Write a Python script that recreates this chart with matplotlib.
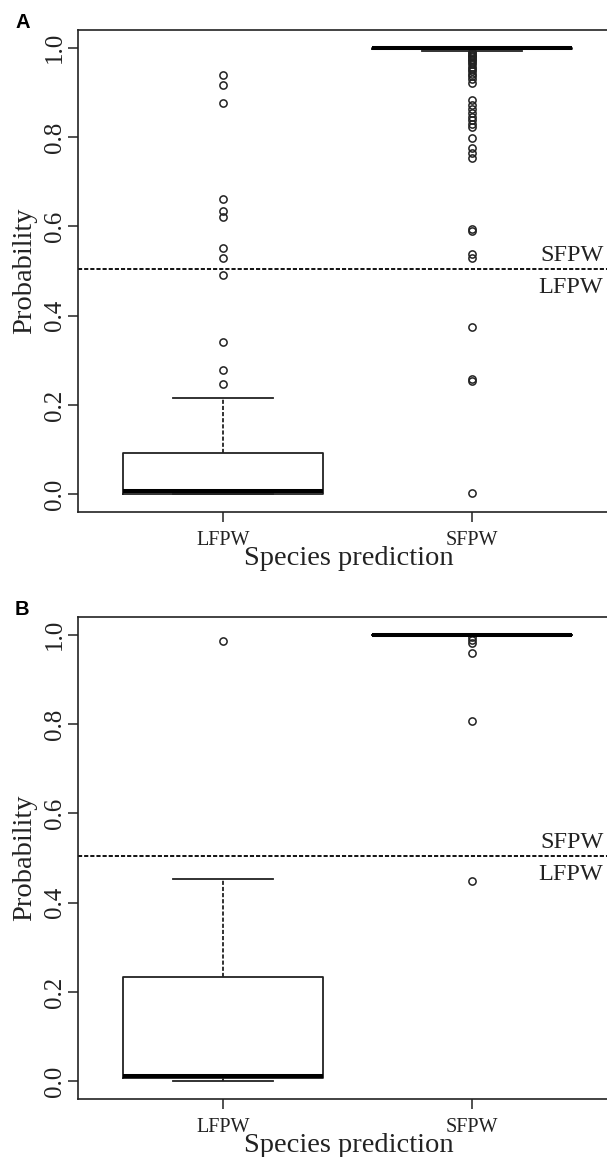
import matplotlib
matplotlib.use('Agg')
import matplotlib.pyplot as plt

plt.rcParams['font.family'] = ['Liberation Serif', 'DejaVu Serif']

groups = ['LFPW', 'SFPW']
yticks = [0.0, 0.2, 0.4, 0.6, 0.8, 1.0]
cutoff = 0.505

# box stats: whisker low, q1, median, q3, whisker high
a_lfpw_stats = [0.0, 0.001, 0.007, 0.093, 0.216]
a_lfpw_out = [0.246, 0.279, 0.340, 0.490, 0.530, 0.551, 0.620, 0.634,
              0.661, 0.877, 0.917, 0.939]
a_sfpw_stats = [0.993, 0.998, 1.0, 1.0, 1.0]
a_sfpw_out = [0.003, 0.254, 0.258, 0.374, 0.530, 0.539, 0.589, 0.593,
              0.753, 0.764, 0.775, 0.799, 0.822, 0.830, 0.838, 0.846,
              0.855, 0.863, 0.872, 0.883, 0.921, 0.930, 0.936, 0.942,
              0.948, 0.953, 0.958, 0.963, 0.968, 0.972, 0.976, 0.979,
              0.982, 0.985, 0.988, 0.990]

b_lfpw_stats = [0.0, 0.008, 0.012, 0.233, 0.454]
b_lfpw_out = [0.986]
b_sfpw_stats = [1.0, 1.0, 1.0, 1.0, 1.0]
b_sfpw_out = [0.449, 0.808, 0.960, 0.982, 0.988, 0.996]

W, H = 607, 1157
ink = '#222222'


def stats(vals, out, label):
    return {'whislo': vals[0], 'q1': vals[1], 'med': vals[2], 'q3': vals[3],
            'whishi': vals[4], 'fliers': out, 'label': label}


def panel(fig, top_px, letter, box_a, out_a, box_b, out_b):
    bot_px = top_px + 482
    ax = fig.add_axes([78 / W, 1 - bot_px / H, 539 / W, 482 / H])
    ax.bxp([stats(box_a, out_a, groups[0]), stats(box_b, out_b, groups[1])],
           positions=[1, 2], widths=0.8, capwidths=0.4,
           boxprops=dict(color=ink, lw=1.3),
           whiskerprops=dict(color=ink, lw=1.3, linestyle=(0, (2.3, 1.1))),
           capprops=dict(color=ink, lw=1.3),
           medianprops=dict(color='black', lw=2.9, solid_capstyle='butt'),
           flierprops=dict(marker='o', mfc='none', mec=ink, ms=5.2, mew=1.1))
    ax.axhline(cutoff, color='black', lw=1.3, linestyle=(0, (2.3, 1.1)))
    ax.set_xlim(0.42, 2.58)
    ax.set_ylim(-0.04, 1.04)
    ax.set_yticks(yticks)
    ax.set_yticklabels(['%.1f' % v for v in yticks], rotation=90, va='center')
    ax.set_xticks([1, 2])
    ax.set_xticklabels(groups)
    ax.tick_params(axis='y', labelsize=18, length=7, width=1.1, color=ink,
                   labelcolor=ink, pad=2)
    ax.tick_params(axis='x', labelsize=14.5, length=7, width=1.1, color=ink,
                   labelcolor=ink, pad=7)
    for s in ax.spines.values():
        s.set_color(ink)
        s.set_linewidth(1.2)
    ax.text(2.525, cutoff + 0.03, 'SFPW', ha='right', va='center',
            fontsize=17.5, color=ink)
    ax.text(2.525, cutoff - 0.042, 'LFPW', ha='right', va='center',
            fontsize=17.5, color=ink)
    fig.text(349 / W, 1 - (bot_px + 53) / H, 'Species prediction',
             ha='center', va='baseline', fontsize=20.5, color=ink)
    fig.text(31 / W, 1 - (top_px + 241) / H, 'Probability', rotation=90,
             rotation_mode='anchor', ha='center', va='baseline',
             fontsize=20.5, color=ink)
    fig.text(15 / W, 1 - (top_px - 2) / H, letter, ha='left', va='baseline',
             fontsize=14.5, fontweight='bold', family='Liberation Sans')
    return ax


fig = plt.figure(figsize=(W / 100, H / 100), dpi=100)
panel(fig, 30, 'A', a_lfpw_stats, a_lfpw_out, a_sfpw_stats, a_sfpw_out)
panel(fig, 617, 'B', b_lfpw_stats, b_lfpw_out, b_sfpw_stats, b_sfpw_out)
fig.savefig('out.png', dpi=100)
